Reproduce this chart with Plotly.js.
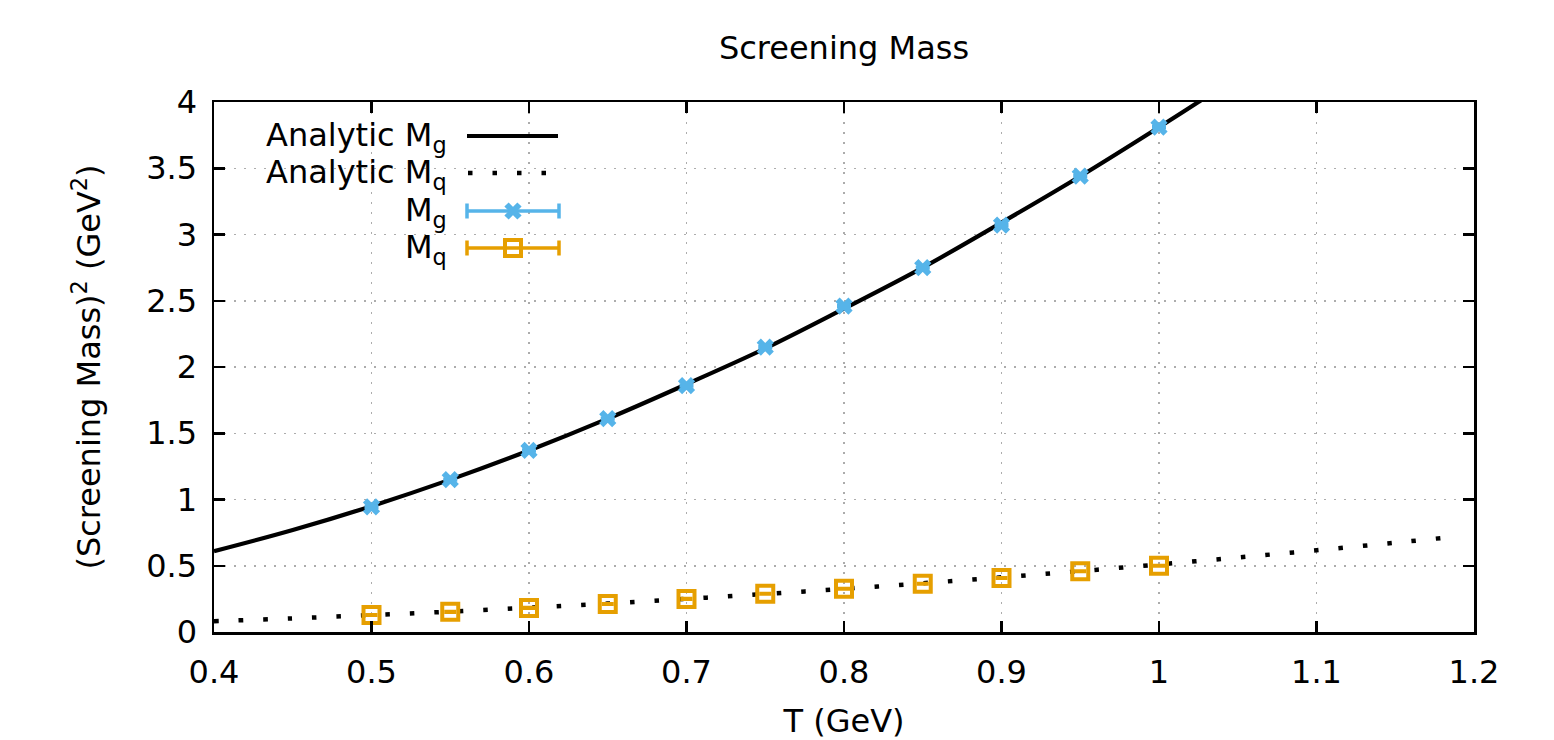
<!DOCTYPE html>
<html><head><meta charset="utf-8">
<script src="https://cdn.plot.ly/plotly-3.0.1.min.js"></script>
<style>html,body{margin:0;padding:0;background:#fff}</style>
</head><body><div id="chart" style="width:1554px;height:740px"></div>
<script>
// Data points
const T_data  = [0.50, 0.55, 0.60, 0.65, 0.70, 0.75, 0.80, 0.85, 0.90, 0.95, 1.00];
const Mg_data = [0.945, 1.150, 1.370, 1.610, 1.860, 2.150, 2.460, 2.750, 3.070, 3.440, 3.810];
const Mg_err  = [0.005, 0.005, 0.005, 0.005, 0.005, 0.005, 0.005, 0.005, 0.005, 0.005, 0.005];
const Mq_data = [0.128, 0.152, 0.182, 0.212, 0.250, 0.288, 0.326, 0.364, 0.408, 0.458, 0.500];
const Mq_err  = [0.004, 0.004, 0.004, 0.004, 0.004, 0.004, 0.004, 0.004, 0.004, 0.004, 0.004];
// Analytic curves
const T_curve_g = [0.40, 0.45, 0.50, 0.55, 0.60, 0.65, 0.70, 0.75, 0.80, 0.85, 0.90, 0.95, 1.00, 1.025, 1.05];
const Mg_curve  = [0.61, 0.77, 0.95, 1.15, 1.37, 1.61, 1.87, 2.14, 2.44, 2.75, 3.09, 3.44, 3.81, 4.00, 4.20];
const T_curve_q = [0.40, 0.45, 0.50, 0.55, 0.60, 0.65, 0.70, 0.75, 0.80, 0.85, 0.90, 0.95, 1.00, 1.05, 1.10, 1.15, 1.19];
const Mq_curve  = [0.082, 0.103, 0.128, 0.154, 0.184, 0.215, 0.250, 0.287, 0.326, 0.368, 0.413, 0.460, 0.510, 0.562, 0.617, 0.674, 0.722];
// Labels
const titleText = 'Screening Mass';
const xTitle = 'T (GeV)';
const yTitle = '(Screening Mass)<sup>2</sup> (GeV<sup>2</sup>)';
const legendNames = ['Analytic M<sub>g</sub>', 'Analytic M<sub>q</sub>', 'M<sub>g</sub>', 'M<sub>q</sub>'];

const BLUE = '#56b4e9', ORANGE = '#e69f00';
const FONT = 'DejaVu Sans, sans-serif';
const FS = 32;

const mgMarker = {symbol: 'x-thin-open', size: 13, color: BLUE, line: {color: BLUE, width: 6}};
const mqMarker = {symbol: 'square-open', size: 16, color: ORANGE, line: {color: ORANGE, width: 4}};

const traces = [
  {x: T_curve_g, y: Mg_curve, mode: 'lines', line: {color: '#000', width: 4.2, shape: 'spline'}, showlegend: false, hoverinfo: 'skip'},
  {x: T_curve_q, y: Mq_curve, mode: 'lines', line: {color: '#000', width: 4.5, dash: '4.5px,20px', shape: 'spline'}, showlegend: false, hoverinfo: 'skip'},
  {x: T_data, y: Mg_data, mode: 'markers', showlegend: false,
   error_y: {type: 'data', array: Mg_err, visible: true, color: BLUE, thickness: 3, width: 7},
   marker: mgMarker},
  {x: T_data, y: Mq_data, mode: 'markers', showlegend: false,
   error_y: {type: 'data', array: Mq_err, visible: true, color: ORANGE, thickness: 3, width: 6},
   marker: mqMarker},
  // legend samples (pixel-like overlay axis)
  {x: [467, 558], y: [136, 136], xaxis: 'x2', yaxis: 'y2', mode: 'lines', line: {color: '#000', width: 4.2}, showlegend: false, hoverinfo: 'skip'},
  {x: [468, 560], y: [173, 173], xaxis: 'x2', yaxis: 'y2', mode: 'lines', line: {color: '#000', width: 4.5, dash: '4.5px,20px'}, showlegend: false, hoverinfo: 'skip'},
  {x: [513], y: [211], xaxis: 'x2', yaxis: 'y2', mode: 'markers', showlegend: false, hoverinfo: 'skip',
   error_x: {type: 'constant', value: 46, visible: true, color: BLUE, thickness: 3.5, width: 7.5},
   marker: mgMarker},
  {x: [513], y: [248], xaxis: 'x2', yaxis: 'y2', mode: 'markers', showlegend: false, hoverinfo: 'skip',
   error_x: {type: 'constant', value: 46, visible: true, color: ORANGE, thickness: 3.5, width: 7.5},
   marker: mqMarker}
];

const legendY = [137, 174, 212, 249];
const annotations = legendNames.map((n, i) => ({
  text: n, xref: 'x2', yref: 'y2', x: 449, y: legendY[i], xanchor: 'right', yanchor: 'middle',
  showarrow: false, font: {family: FONT, size: FS, color: '#000'}
}));

const axisCommon = {
  showline: true, mirror: 'allticks', linecolor: '#000', linewidth: 2.5,
  ticks: 'inside', ticklen: 11, tickwidth: 2.5, tickcolor: '#000',
  showgrid: true, gridcolor: '#acacac', gridwidth: 1.5, griddash: '1.5px,8.5px',
  zeroline: false, tickfont: {family: FONT, size: FS, color: '#000'}
};

const layout = {
  width: 1554, height: 740,
  margin: {l: 214, r: 80, t: 102, b: 108},
  paper_bgcolor: '#fff', plot_bgcolor: '#fff',
  font: {family: FONT, color: '#000'},
  title: {text: titleText, font: {family: FONT, size: FS, color: '#000'}, x: 0.5, xref: 'paper', xanchor: 'center', y: 1 - 48/740, yref: 'container', yanchor: 'middle'},
  xaxis: Object.assign({}, axisCommon, {range: [0.4, 1.2], dtick: 0.1, tick0: 0.4, ticklabelstandoff: 10,
    title: {text: xTitle, font: {family: FONT, size: FS, color: '#000'}, standoff: 38}}),
  yaxis: Object.assign({}, axisCommon, {range: [0, 4], dtick: 0.5, tick0: 0, ticklabelstandoff: 8,
    title: {text: yTitle, font: {family: FONT, size: FS, color: '#000'}, standoff: 36}}),
  xaxis2: {overlaying: 'x', range: [214, 1474], visible: false, fixedrange: true},
  yaxis2: {overlaying: 'y', range: [632, 102], visible: false, fixedrange: true},
  shapes: [{type: 'rect', xref: 'paper', yref: 'paper', x0: 0.003, x1: (578 - 214) / 1260, y0: (632 - 265) / 530, y1: 0.995,
    fillcolor: '#fff', line: {width: 0}, layer: 'between'}],
  annotations: annotations,
  showlegend: false
};

Plotly.newPlot('chart', traces, layout, {displayModeBar: false, staticPlot: true});
</script>
</body></html>
